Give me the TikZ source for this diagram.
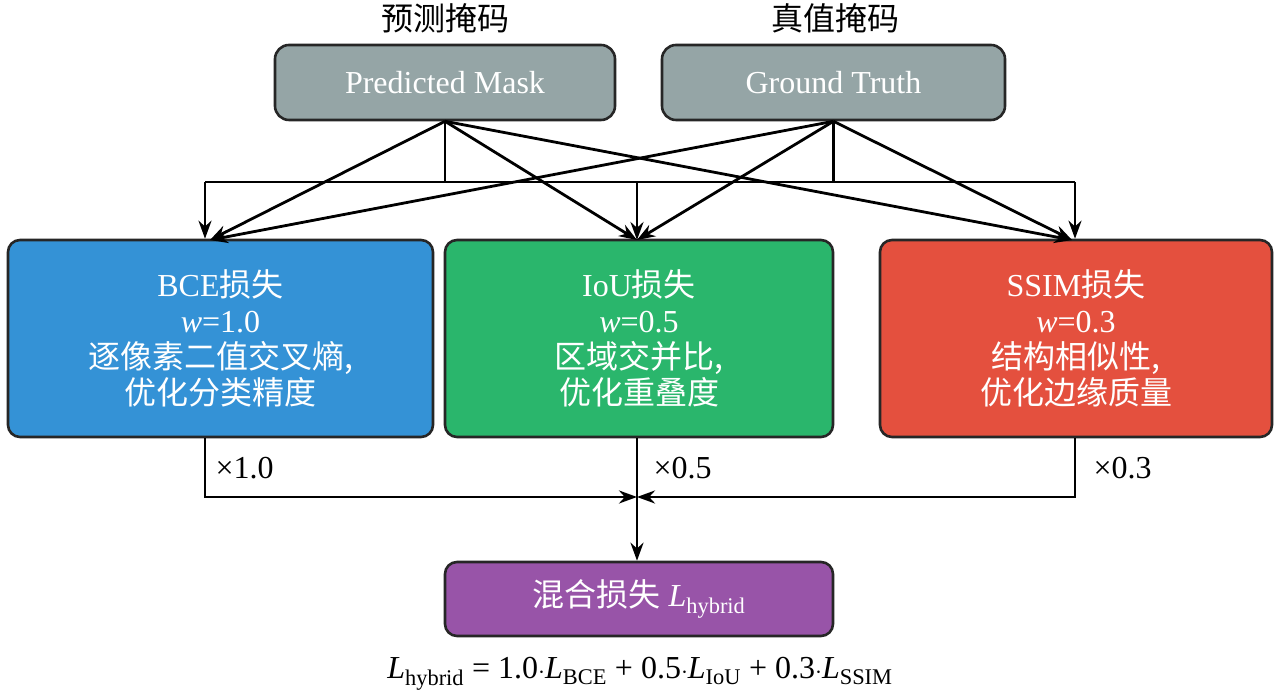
\documentclass[tikz,border=0pt]{standalone}
\usepackage{fontspec}
\setmainfont{Liberation Serif}
\newfontfamily\cjk{Noto Sans CJK SC}
\usetikzlibrary{positioning,arrows.meta}
\newcommand{\zh}[1]{{\cjk #1}}
\newcommand{\Lsub}[1]{\textit{L}\textsubscript{#1}}
\definecolor{maskColor}{RGB}{149,165,166}
\definecolor{bceColor}{RGB}{52,146,214}
\definecolor{iouColor}{RGB}{42,182,108}
\definecolor{ssimColor}{RGB}{228,80,62}
\definecolor{hybColor}{RGB}{152,84,168}
\tikzset{
  box/.style={draw=black!85,line width=2.6pt,rounded corners=12pt,text=white,align=center,inner sep=0pt},
  arr/.style={-{Stealth[length=18pt,width=13pt]},line width=2.8pt},
  ln/.style={line width=2.8pt}
}
\begin{document}
\begin{tikzpicture}[x=1pt,y=1pt,font=\fontsize{32}{40}\selectfont]
\path[use as bounding box] (0,0) rectangle (1280,698);
% input masks
\node[box,minimum width=340,minimum height=75,rounded corners=14pt,fill=maskColor] (pred) at (445,615.5) {Predicted Mask};
\node[box,minimum width=343,minimum height=75,rounded corners=14pt,fill=maskColor] (gt) at (833.5,615.5) {Ground Truth};
\node (predT) at (445,680) {\zh{预测掩码}};
\node (gtT) at (835,680) {\zh{真值掩码}};
% loss boxes
\node[box,minimum width=425,minimum height=197,fill=bceColor] (bce) at (220.5,359.5)
  {BCE\zh{损失}\\[-4pt] \textit{w}=1.0\\[-4pt] \zh{逐像素二值交叉熵,}\\[-4pt] \zh{优化分类精度}};
\node[box,minimum width=388,minimum height=197,fill=iouColor] (iou) at (639,359.5)
  {IoU\zh{损失}\\[-4pt] \textit{w}=0.5\\[-4pt] \zh{区域交并比,}\\[-4pt] \zh{优化重叠度}};
\node[box,minimum width=392,minimum height=197,fill=ssimColor] (ssim) at (1076,359.5)
  {SSIM\zh{损失}\\[-4pt] \textit{w}=0.3\\[-4pt] \zh{结构相似性,}\\[-4pt] \zh{优化边缘质量}};
% hybrid
\node[box,minimum width=388,minimum height=74,rounded corners=12pt,fill=hybColor] (hyb) at (639,99) {\zh{混合损失} \Lsub{hybrid}};
\node (form) at (640,24) {\Lsub{hybrid} = 1.0$\cdot$\Lsub{BCE} + 0.5$\cdot$\Lsub{IoU} + 0.3$\cdot$\Lsub{SSIM}};
% bus
\coordinate (bl) at (205,516);
\coordinate (br) at (1075,516);
\draw[ln] (pred.south) -- (pred.south |- bl);
\draw[ln] (gt.south) -- (gt.south |- bl);
\draw[ln] (bl) -- (br);
\draw[arr] (bl) -- (bl |- bce.north);
\draw[arr] (br) -- (br |- ssim.north);
\draw[arr] (637,516) -- (637,458);
% diagonals
\foreach \src in {pred,gt}{
  \draw[arr] (\src.south) -- (210,458);
  \draw[arr] (\src.south) -- (637,458);
  \draw[arr] (\src.south) -- (1072,458);
}
% outputs
\coordinate (mid) at (637,201);
\draw[arr] (bce.south -| bl) -- (bl |- mid) -- (mid);
\draw[arr] (ssim.south -| br) -- (br |- mid) -- (mid);
\draw[arr] (iou.south -| mid) -- (mid |- hyb.north);
\node[anchor=west] at (212,230) {×1.0};
\node[anchor=west] at (650,230) {×0.5};
\node[anchor=west] at (1090,230) {×0.3};
\end{tikzpicture}
\end{document}
